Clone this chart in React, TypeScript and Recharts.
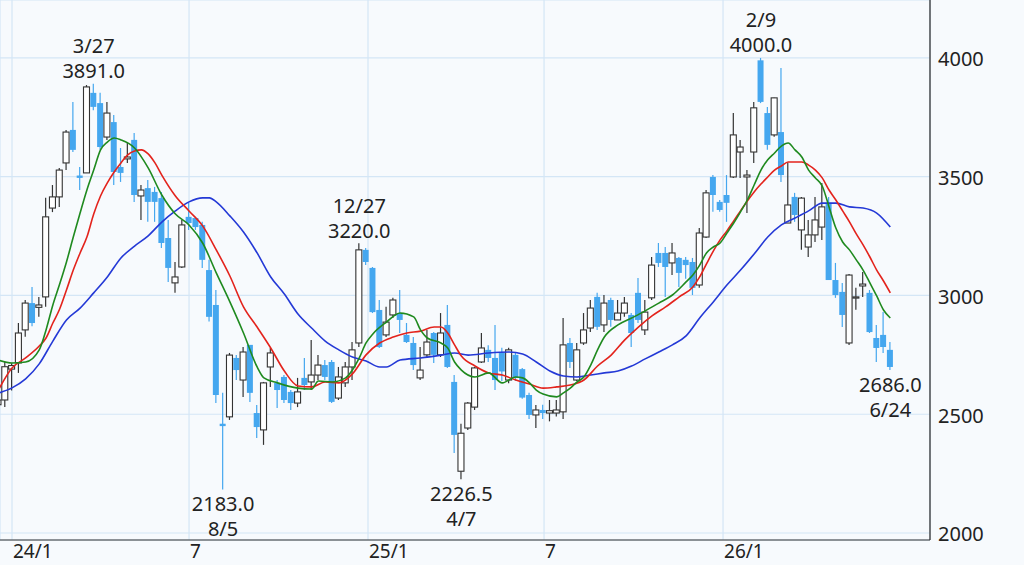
import {
  Bar,
  CartesianGrid,
  ComposedChart,
  Line,
  ReferenceDot,
  XAxis,
  YAxis,
} from "recharts";

// weekly candles, first week starts 2023-12-18 (day -14 from 2024-01-01)
const firstWeekDay = -14;

const opens = [
  2540, 2560, 2690, 2716, 2855, 2968, 2950, 2994, 3368, 3415, 3558, 3697, 3505, 3516, 3853, 3810, 3667, 3730, 3541, 3575,
  3655, 3419, 3452, 3436, 3410, 3242, 3053, 3120, 3331, 3326, 3297, 3107, 2960, 2460, 2489, 2737, 2644, 2792, 2505, 2434,
  2699, 2632, 2657, 2594, 2547, 2653, 2636, 2665, 2707, 2720, 2568, 2632, 2699, 2800, 3192, 3116, 2939, 2834, 2918, 2926,
  2834, 2800, 2653, 2750, 2842, 2750, 2876, 2636, 2260, 2442, 2530, 2720, 2771, 2737, 2760, 2644, 2750, 2690, 2581, 2497,
  2518, 2505, 2505, 2510, 2800, 2644, 2800, 2863, 2994, 2876, 2981, 2897, 2926, 2918, 3011, 2855, 2990, 3179, 3179, 3137,
  3158, 3150, 3141, 3044, 3246, 3499, 3394, 3423, 3499, 3604, 3499, 3604, 3990, 3768, 3676, 3688, 3305, 3415, 3276, 3204,
  3255, 3288, 3390, 3065, 3015, 2800, 2990, 3040, 3011, 2821, 2834, 2771,
];
const highs = [
  2590, 2720, 2715, 2884, 2981, 3036, 2994, 3411, 3465, 3537, 3697, 3815, 3541, 3886, 3891, 3853, 3815, 3760, 3621, 3642,
  3684, 3465, 3486, 3457, 3436, 3318, 3141, 3318, 3390, 3331, 3310, 3150, 3023, 2590, 2758, 2749, 2783, 2792, 2539, 2636,
  2779, 2644, 2665, 2602, 2653, 2737, 2813, 2749, 2728, 2728, 2699, 2720, 2804, 3220, 3200, 3120, 2981, 2952, 2990, 3023,
  2884, 2825, 2783, 2855, 2846, 2926, 2960, 2665, 2460, 2552, 2699, 2842, 2790, 2876, 2780, 2780, 2760, 2695, 2590, 2539,
  2540, 2560, 2560, 2905, 2821, 2800, 2926, 2981, 3011, 3002, 2990, 2981, 2994, 2926, 3074, 2981, 3162, 3221, 3204, 3221,
  3162, 3162, 3158, 3284, 3444, 3507, 3402, 3507, 3768, 3655, 3528, 3815, 4000, 3794, 3832, 3958, 3560, 3432, 3415, 3318,
  3415, 3474, 3415, 3137, 3053, 3090, 3032, 3099, 3023, 2876, 2930, 2804,
];
const lows = [
  2490, 2530, 2600, 2674, 2826, 2870, 2910, 2952, 3351, 3373, 3528, 3604, 3444, 3516, 3780, 3613, 3655, 3465, 3478, 3558,
  3394, 3318, 3310, 3310, 3200, 3057, 3011, 3116, 3276, 3276, 3116, 2890, 2547, 2183, 2476, 2644, 2573, 2552, 2400, 2371,
  2615, 2526, 2547, 2518, 2530, 2602, 2602, 2644, 2644, 2547, 2560, 2615, 2644, 2783, 3128, 2926, 2779, 2825, 2905, 2842,
  2800, 2686, 2644, 2737, 2716, 2741, 2695, 2337, 2226.5, 2434, 2518, 2716, 2720, 2602, 2640, 2630, 2640, 2565, 2480, 2442,
  2480, 2470, 2490, 2480, 2695, 2640, 2792, 2846, 2855, 2846, 2868, 2897, 2910, 2783, 2884, 2834, 2981, 3120, 2994, 3086,
  3036, 3070, 3002, 3032, 3242, 3352, 3352, 3310, 3495, 3495, 3347, 3558, 3810, 3613, 3668, 3478, 3305, 3310, 3192, 3162,
  3225, 3234, 3065, 2990, 2867, 2792, 2940, 2994, 2842, 2720, 2758, 2686,
];
const closes = [
  2560, 2700, 2705, 2842, 2968, 2884, 2960, 3331, 3415, 3528, 3688, 3613, 3495, 3878, 3794, 3625, 3768, 3520, 3516, 3583,
  3423, 3444, 3394, 3394, 3221, 3116, 3078, 3297, 3305, 3288, 3150, 2910, 2581, 2450, 2749, 2686, 2762, 2590, 2446, 2632,
  2758, 2602, 2560, 2547, 2594, 2623, 2665, 2707, 2657, 2552, 2657, 2699, 2771, 3192, 3141, 2930, 2783, 2888, 2981, 2897,
  2804, 2707, 2686, 2804, 2750, 2842, 2699, 2413, 2420, 2547, 2695, 2779, 2737, 2644, 2680, 2771, 2653, 2570, 2497, 2518,
  2505, 2515, 2518, 2792, 2720, 2771, 2855, 2947, 2868, 2968, 2897, 2926, 2968, 2842, 2897, 2930, 3128, 3137, 3120, 3179,
  3095, 3128, 3032, 3263, 3432, 3423, 3360, 3390, 3676, 3625, 3507, 3790, 3815, 3634, 3832, 3507, 3381, 3339, 3410, 3255,
  3318, 3373, 3065, 3002, 2918, 3086, 2994, 3048, 2846, 2779, 2783, 2699,
];

// moving averages: [week index, value]
const maShort = [
  [0, 2728], [2, 2716], [4, 2720], [6, 2771], [7, 2855], [8, 2960], [9, 3048], [10, 3141], [11, 3246], [12, 3347],
  [13, 3444], [14, 3528], [15, 3613], [16, 3646], [17, 3663], [18, 3655], [20, 3621], [22, 3537], [24, 3423], [26, 3343],
  [28, 3297], [30, 3221], [32, 3095], [34, 2973], [36, 2842], [38, 2699], [39, 2653], [41, 2632], [44, 2610], [46, 2606],
  [47, 2640], [49, 2636], [51, 2653], [52, 2686], [53, 2737], [54, 2800], [55, 2838], [57, 2888], [59, 2926], [61, 2910],
  [62, 2855], [63, 2821], [65, 2800], [66, 2779], [67, 2720], [68, 2686], [70, 2657], [72, 2674], [74, 2632], [76, 2657],
  [77, 2653], [78, 2632], [79, 2602], [80, 2585], [82, 2573], [83, 2590], [84, 2610], [85, 2636], [86, 2657], [87, 2707],
  [88, 2771], [89, 2825], [91, 2876], [93, 2905], [95, 2935], [97, 2968], [99, 3002], [101, 3057], [102, 3086], [103, 3128],
  [104, 3179], [105, 3204], [106, 3221], [107, 3263], [108, 3305], [109, 3352], [110, 3402], [111, 3465], [112, 3528],
  [113, 3571], [114, 3600], [115, 3629], [116, 3642], [117, 3613], [118, 3583], [119, 3528], [120, 3495], [121, 3461],
  [122, 3373], [123, 3284], [124, 3225], [125, 3192], [126, 3150], [127, 3107], [128, 3053], [129, 2998], [130, 2939],
  [131, 2905],
];
const maMid = [
  [0, 2602], [2, 2695], [4, 2737], [6, 2787], [7, 2821], [8, 2884], [9, 2943], [10, 3023], [11, 3107], [12, 3179],
  [13, 3246], [14, 3343], [15, 3419], [16, 3474], [17, 3520], [18, 3558], [19, 3592], [20, 3608], [21, 3613], [22, 3596],
  [23, 3558], [24, 3507], [26, 3419], [28, 3356], [30, 3293], [32, 3192], [34, 3082], [36, 2952], [38, 2867], [40, 2779],
  [42, 2682], [44, 2619], [46, 2615], [48, 2636], [50, 2632], [52, 2670], [54, 2750], [56, 2800], [58, 2825], [60, 2842],
  [62, 2850], [64, 2867], [65, 2867], [66, 2842], [67, 2792], [68, 2745], [70, 2703], [72, 2674], [74, 2665], [76, 2644],
  [78, 2627], [80, 2610], [82, 2615], [84, 2623], [86, 2644], [88, 2703], [90, 2749], [92, 2813], [94, 2867], [96, 2914],
  [98, 2952], [100, 2994], [102, 3036], [103, 3078], [104, 3133], [105, 3187], [106, 3234], [107, 3272], [108, 3314],
  [109, 3356], [110, 3398], [111, 3436], [112, 3469], [113, 3499], [114, 3528], [115, 3545], [116, 3562], [117, 3562],
  [118, 3562], [119, 3549], [120, 3528], [121, 3495], [122, 3444], [123, 3402], [124, 3356], [125, 3310], [126, 3259],
  [127, 3213], [128, 3162], [129, 3107], [130, 3061], [131, 3011],
];
const maLong = [
  [0, 2589], [2, 2611], [4, 2649], [6, 2712], [8, 2808], [10, 2897], [12, 2947], [14, 3011], [16, 3078], [18, 3158],
  [20, 3208], [22, 3251], [24, 3309], [26, 3356], [28, 3394], [30, 3411], [31, 3411], [32, 3394], [34, 3335], [36, 3267],
  [38, 3179], [40, 3078], [42, 3006], [44, 2922], [46, 2863], [48, 2808], [50, 2771], [52, 2741], [54, 2724], [56, 2699],
  [57, 2699], [59, 2728], [62, 2737], [65, 2749], [67, 2758], [69, 2749], [72, 2758], [75, 2762], [77, 2754], [79, 2720],
  [81, 2682], [83, 2661], [85, 2657], [87, 2665], [89, 2674], [91, 2682], [93, 2703], [95, 2733], [97, 2762], [99, 2792],
  [101, 2830], [103, 2905], [105, 2973], [107, 3044], [109, 3107], [111, 3175], [113, 3246], [115, 3297], [117, 3326],
  [119, 3356], [121, 3389], [123, 3389], [125, 3373], [127, 3368], [129, 3347], [131, 3288],
];

const xTicks = [0, 182, 366, 547, 731];
const xTickLabels = ["24/1", "7", "25/1", "7", "26/1"];
const yTicks = [2000, 2500, 3000, 3500, 4000];

const highNotes = [
  { week: 14, date: "3/27", value: 3891.0 },
  { week: 53, date: "12/27", value: 3220.0 },
  { week: 112, date: "2/9", value: 4000.0 },
];
const lowNotes = [
  { week: 33, date: "8/5", value: 2183.0 },
  { week: 68, date: "4/7", value: 2226.5 },
  { week: 131, date: "6/24", value: 2686.0 },
];

const BLUE = "#45a7ef";
const INK = "#333";

const rows = opens.map((open, i) => ({
  day: firstWeekDay + 7 * i,
  open,
  high: highs[i],
  low: lows[i],
  close: closes[i],
  range: [lows[i], highs[i]],
  maShort: null as number | null,
  maMid: null as number | null,
  maLong: null as number | null,
}));
maShort.forEach(([i, v]) => (rows[i].maShort = v));
maMid.forEach(([i, v]) => (rows[i].maMid = v));
maLong.forEach(([i, v]) => (rows[i].maLong = v));

function Candle(props: any) {
  const { x, y, width, height, payload } = props;
  const { open, close, high, low } = payload;
  const unit = height / (high - low);
  const yOpen = y + (high - open) * unit;
  const yClose = y + (high - close) * unit;
  const up = close >= open;
  const cx = x + width / 2;
  const top = Math.min(yOpen, yClose);
  const h = Math.max(Math.abs(yOpen - yClose), 1.2);
  return (
    <g>
      <line x1={cx} x2={cx} y1={y} y2={y + height} stroke={up ? INK : BLUE} strokeWidth={1.2} />
      <rect
        x={x}
        y={top}
        width={width}
        height={h}
        fill={up ? "#fff" : BLUE}
        stroke={up ? INK : "none"}
        strokeWidth={1.1}
      />
    </g>
  );
}

function XTick(props: any) {
  const { x, y, payload } = props;
  const label = xTickLabels[xTicks.indexOf(payload.value)];
  return (
    <text x={x + 1} y={y + 3} fill="#222" fontSize={19} textAnchor="start" dominantBaseline="central">
      {label}
    </text>
  );
}

function YTick(props: any) {
  const { x, y, payload } = props;
  return (
    <text x={x} y={y + 1} fill="#222" fontSize={20} textAnchor="start" dominantBaseline="central">
      {payload.value}
    </text>
  );
}

function Note({ viewBox, date, value, below }: any) {
  const cx = viewBox.x + viewBox.width / 2;
  const cy = viewBox.y + viewBox.height / 2;
  const style = { fontSize: 20, fill: "#222" };
  if (below) {
    return (
      <g>
        <text x={cx} y={cy + 14} textAnchor="middle" dominantBaseline="central" {...style}>
          {value.toFixed(1)}
        </text>
        <text x={cx} y={cy + 39} textAnchor="middle" dominantBaseline="central" {...style}>
          {date}
        </text>
      </g>
    );
  }
  return (
    <g>
      <text x={cx} y={cy - 38} textAnchor="middle" dominantBaseline="central" {...style}>
        {date}
      </text>
      <text x={cx} y={cy - 13} textAnchor="middle" dominantBaseline="central" {...style}>
        {value.toFixed(1)}
      </text>
    </g>
  );
}

export default function App() {
  return (
    <div
      style={{
        position: "absolute",
        left: 0,
        top: 0,
        width: 1024,
        height: 565,
        background: "#f7fafd",
        fontFamily: "'Noto Sans', sans-serif",
      }}
    >
      <ComposedChart
        width={1024}
        height={565}
        data={rows}
        margin={{ top: 0, right: 0, bottom: 0, left: 0 }}
      >
        <CartesianGrid stroke="#d4e6f6" strokeWidth={1.2} />

        <XAxis
          dataKey="day"
          type="number"
          domain={[-12.34, 943.8]}
          allowDataOverflow
          ticks={xTicks}
          tick={<XTick />}
          tickLine={false}
          axisLine={{ stroke: INK }}
          height={25}
        />

        <YAxis
          orientation="right"
          type="number"
          domain={[1970.5, 4244]}
          allowDataOverflow
          ticks={yTicks}
          tick={<YTick />}
          tickLine={false}
          axisLine={{ stroke: INK, strokeWidth: 1.3 }}
          width={94}
        />

        <Bar dataKey="range" barSize={6} shape={<Candle />} isAnimationActive={false} />

        <Line
          type="monotone"
          dataKey="maLong"
          stroke="#2439d6"
          strokeWidth={1.6}
          dot={false}
          connectNulls
          isAnimationActive={false}
        />
        <Line
          type="monotone"
          dataKey="maMid"
          stroke="#e3231c"
          strokeWidth={1.6}
          dot={false}
          connectNulls
          isAnimationActive={false}
        />
        <Line
          type="monotone"
          dataKey="maShort"
          stroke="#1f8a1f"
          strokeWidth={1.6}
          dot={false}
          connectNulls
          isAnimationActive={false}
        />

        {highNotes.map((n) => (
          <ReferenceDot
            key={n.date}
            x={firstWeekDay + 7 * n.week}
            y={n.value}
            r={1}
            fill="none"
            stroke="none"
            label={(p: any) => <Note viewBox={p.viewBox} date={n.date} value={n.value} />}
          />
        ))}
        {lowNotes.map((n) => (
          <ReferenceDot
            key={n.date}
            x={firstWeekDay + 7 * n.week}
            y={n.value}
            r={1}
            fill="none"
            stroke="none"
            label={(p: any) => <Note viewBox={p.viewBox} date={n.date} value={n.value} below />}
          />
        ))}
      </ComposedChart>
    </div>
  );
}
